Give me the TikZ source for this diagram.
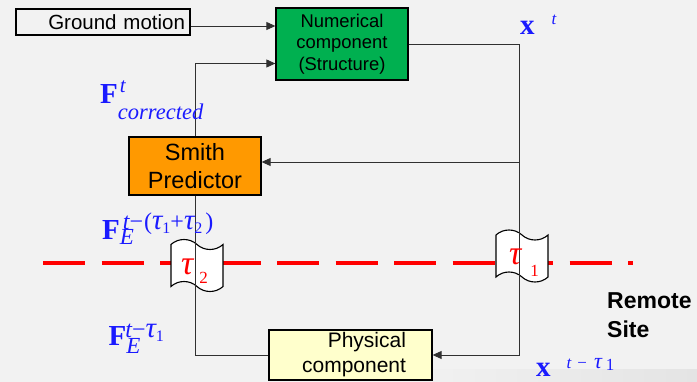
\documentclass[tikz,border=0pt]{standalone}
\usepackage{fontspec}
\setmainfont{Liberation Sans}
\newfontfamily\tms{Liberation Serif}
\usetikzlibrary{arrows.meta,shapes.symbols}
\definecolor{bg}{HTML}{F2F2F2}
\definecolor{band}{HTML}{E4E4E4}
\definecolor{numgreen}{HTML}{00B050}
\definecolor{smorange}{HTML}{FF9900}
\definecolor{phyyellow}{HTML}{FFFFCC}
\definecolor{lblblue}{HTML}{1A1AFF}
\definecolor{dashred}{HTML}{FF0000}
\definecolor{wirecol}{HTML}{303030}
\newcommand{\fsz}[2]{\fontsize{#1}{#2}\selectfont}
\newcommand{\Fb}{{\fsz{29}{29}\tms\bfseries F}}
\newcommand{\Ei}[1]{\rlap{\raisebox{#1}{\fsz{23}{23}\tms\itshape E}}}
\newcommand{\subd}[1]{\raisebox{-4pt}{\fsz{16}{16}\tms\upshape #1}}
\newcommand{\tauf}[1]{{\fsz{#1}{#1}\tms\itshape τ}}
\begin{document}
\begin{tikzpicture}[x=1pt,y=-1pt,
  box/.style={draw=black, line width=1.3pt, inner sep=0pt, align=center},
  wire/.style={draw=wirecol, line width=0.9pt},
  arr/.style={wire, -{Triangle[length=9pt,width=8pt]}},
  delay/.style={tape, draw=black, line width=1.1pt, fill=white, inner sep=0pt,
    minimum width=52pt, minimum height=52pt, tape bend height=10pt,
    tape bend top=out and in, tape bend bottom=out and in},
  mathlbl/.style={text=lblblue, inner sep=0pt, anchor=base west},
  taulbl/.style={text=dashred, inner sep=0pt, anchor=base west},
  ]
% background
\fill[bg] (0,0) rectangle (697,382);
\shade[left color=bg, right color=band] (400,370) rectangle (697,382);
\useasboundingbox (0,0) rectangle (697,382);

% boundary line
\coordinate (dl) at (43,262.7);
\coordinate (dr) at (633.3,262.7);
\draw[dashred, line width=4pt, dash pattern=on 42.2pt off 16.3pt] (dl) -- (dr);

% delays
\node[delay] (d2) at (197,265.5) {};
\node[delay] (d1) at (522,256) {};

% blocks
\node[box, minimum width=174pt, minimum height=26pt, text width=164pt, align=right,
  font=\fsz{20.5}{24}] (gm) at (103,22) {Ground motion};
\node[box, fill=numgreen, minimum width=132pt, minimum height=72pt,
  font=\fsz{18.4}{21.5}] (num) at (342,44) {Numerical\\component\\(Structure)};
\node[box, fill=smorange, minimum width=132pt, minimum height=58pt,
  font=\fsz{23.5}{28}] (smith) at (195,166) {Smith\\Predictor};
\node[box, fill=phyyellow, minimum width=163pt, minimum height=50pt, text width=111pt,
  align=right, font=\fsz{21}{25}] (phys) at (350.5,355) {Physical\\component};

% connectors
\coordinate (rt) at (519,44);
\coordinate (rb) at (519,355);
\draw[arr] ([yshift=-4pt]gm.east) -- ([yshift=-4pt]gm.east -| num.west);
\draw[arr] (num.east) -- (rt) -- (rb) -- (phys.east);
\draw[arr] ([yshift=4pt]smith.east -| rt) -- ([yshift=4pt]smith.east);
\draw[wire] (phys.west) -| (smith.south);
\draw[arr] (smith.north) |- ([yshift=-19.5pt]num.west);

% delay labels
\node[taulbl] (t2) at (181,275) {\tauf{34}\hspace{6pt}\raisebox{-9pt}{\fsz{17}{17}\tms 2}};
\node[taulbl] (t1) at (509,265) {\tauf{34}\hspace{9pt}\raisebox{-11.5pt}{\fsz{17}{17}\tms 1}};

% signal labels
\node[mathlbl] (fcor) at (100,103.5) {\Fb\rlap{\hspace{2pt}\raisebox{10.5pt}{\fsz{21}{21}\tms\itshape t}}\raisebox{-16.5pt}{\fsz{22.5}{22.5}\tms\itshape corrected}};
\node[mathlbl] (fe12) at (102,239.3) {\Fb\Ei{-5.7pt}\hspace{3pt}\raisebox{9.3pt}{\fsz{24}{24}\tms\itshape t\upshape−\hspace{1pt}(\tauf{29}\subd{1}\upshape+\tauf{29}\subd{2}\hspace{3pt}\upshape)}};
\node[mathlbl] (fe1) at (108.5,345.7) {\Fb\Ei{-8.3pt}\hspace{-1pt}\raisebox{7.7pt}{\fsz{24}{24}\tms\itshape t\upshape−\tauf{29}\subd{1}}};
\node[mathlbl] (xt) at (520,35) {{\fsz{29}{29}\tms\bfseries x}\hspace{17pt}\raisebox{10pt}{\fsz{17}{17}\tms\itshape t}};
\node[mathlbl] (xt1) at (536,376.7) {{\fsz{29}{29}\tms\bfseries x}\hspace{16pt}\raisebox{8.4pt}{\fsz{17}{17}\tms\itshape t\hspace{6pt}\upshape−\hspace{7pt}\tauf{22}\hspace{4pt}\upshape\raisebox{-2pt}{1}}};

% site label
\node[inner sep=0pt, anchor=south west, align=left, font=\fsz{23}{29}\bfseries] (site) at (607,338) {Remote\\Site};
\end{tikzpicture}
\end{document}
